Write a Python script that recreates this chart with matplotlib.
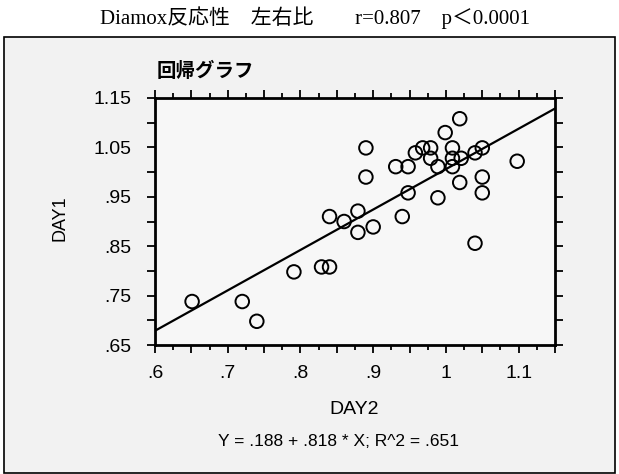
import matplotlib
matplotlib.use("Agg")
import matplotlib.patches as mpatches
import matplotlib.pyplot as plt
import numpy as np

# data (DAY2 -> x, DAY1 -> y)
day2 = [0.651, 0.720, 0.740, 0.791, 0.829, 0.840, 0.840, 0.860, 0.879, 0.879,
        0.900, 0.890, 0.890, 0.931, 0.948, 0.948, 0.940, 0.958, 0.968, 0.979,
        0.979, 0.989, 0.989, 0.999, 1.019, 1.009, 1.009, 1.021, 1.009, 1.019,
        1.040, 1.050, 1.050, 1.050, 1.040, 1.098]
day1 = [0.738, 0.738, 0.698, 0.798, 0.808, 0.808, 0.910, 0.900, 0.878, 0.921,
        0.889, 1.049, 0.990, 1.011, 1.011, 0.958, 0.910, 1.039, 1.049, 1.049,
        1.028, 1.011, 0.948, 1.080, 1.108, 1.049, 1.028, 1.028, 1.011, 0.979,
        1.039, 1.049, 0.990, 0.958, 0.856, 1.022]
intercept = 0.188
slope = 0.818

x_labels = {0.6: ".6", 0.7: ".7", 0.8: ".8", 0.9: ".9", 1.0: "1", 1.1: "1.1"}
y_labels = {0.65: ".65", 0.75: ".75", 0.85: ".85", 0.95: ".95", 1.05: "1.05", 1.15: "1.15"}

title = "Diamox反応性\u3000左右比\u3000\u3000r=0.807\u3000p＜0.0001"
panel_title = "回帰グラフ"
equation = "Y = .188 + .818 * X; R^2 = .651"

W, H = 619, 474
SANS = ["Liberation Sans", "DejaVu Sans"]


def fx(px):
    return px / W


def fy(py):
    return 1 - py / H


def tick_labels(ticks, labels):
    out = []
    for t in ticks:
        match = [v for k, v in labels.items() if abs(k - t) < 1e-6]
        out.append(match[0] if match else "")
    return out


fig = plt.figure(figsize=(W / 100, H / 100), dpi=100)
fig.patch.set_facecolor("white")

# outer frame with light grey fill
frame = mpatches.Rectangle((fx(4), fy(473)), fx(615) - fx(4), fy(37) - fy(473),
                           transform=fig.transFigure, facecolor="#f2f2f2",
                           edgecolor="black", linewidth=1.2, zorder=-5)
fig.patches.append(frame)

fig.text(fx(315), fy(18), title, ha="center", va="center", fontsize=15,
         family=["Liberation Serif", "Noto Sans CJK JP"])
fig.text(fx(157), fy(71), panel_title, ha="left", va="center", fontsize=14,
         fontweight="bold", family=["Noto Sans CJK JP", "DejaVu Sans"])

ax = fig.add_axes([fx(155), fy(345), fx(555) - fx(155), fy(98) - fy(345)])
ax.set_zorder(5)
ax.set_facecolor("#f7f7f7")
ax.set_xlim(0.6, 1.15)
ax.set_ylim(0.65, 1.15)

xs = np.array([0.6, 1.15])
ax.plot(xs, intercept + slope * xs, color="black", linewidth=1.6, zorder=2)
ax.scatter(day2, day1, s=95, facecolors="none", edgecolors="black",
           linewidths=1.4, zorder=3)

xt = np.round(np.arange(0.6, 1.151, 0.05), 3)
yt = np.round(np.arange(0.65, 1.151, 0.05), 3)
ax.set_xticks(xt)
ax.set_xticklabels(tick_labels(xt, x_labels))
ax.set_yticks(yt)
ax.set_yticklabels(tick_labels(yt, y_labels))
ax.set_xticks(np.arange(0.625, 1.15, 0.05), minor=True)
ax.tick_params(axis="both", which="both", direction="out", top=True, right=True,
               width=1.3, color="black")
ax.tick_params(axis="x", which="major", length=5.5, labelsize=14, pad=9)
ax.tick_params(axis="x", which="minor", length=3.5)
ax.tick_params(axis="y", which="major", length=6, labelsize=14, pad=11)
for lab in ax.get_xticklabels() + ax.get_yticklabels():
    lab.set_family(SANS)
for sp in ax.spines.values():
    sp.set_linewidth(2.0)

fig.text(fx(354), fy(410), "DAY2", ha="center", va="center", fontsize=14,
         family=SANS)
fig.text(fx(60), fy(218), "DAY1", ha="center", va="center", fontsize=13,
         rotation=90, family=SANS)
fig.text(fx(339), fy(442), equation, ha="center", va="center", fontsize=12.5,
         family=SANS)

fig.savefig("out.png", dpi=100)
